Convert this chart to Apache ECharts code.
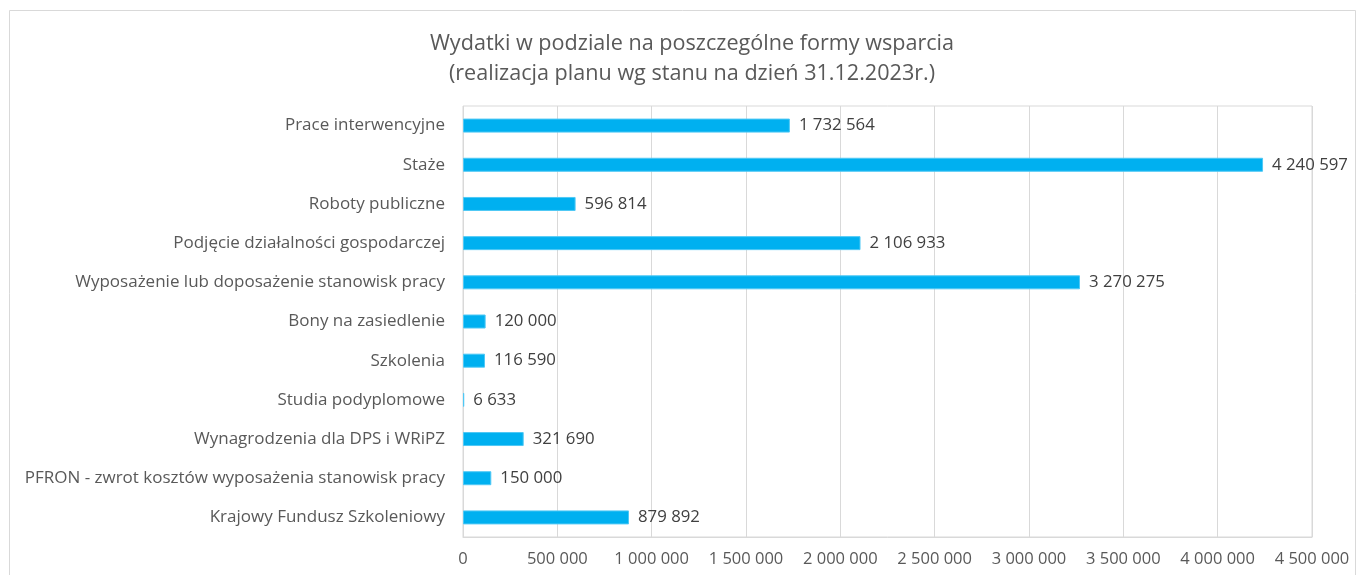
<!DOCTYPE html>
<html>
<head>
<meta charset="utf-8">
<script src="https://cdn.jsdelivr.net/npm/echarts@6/dist/echarts.min.js"></script>
<style>
  html, body { margin: 0; padding: 0; background: #fff; }
  #main { width: 1362px; height: 575px; }
</style>
</head>
<body>
<div id="main"></div>
<script>
var categories = [
    'Prace interwencyjne',
    'Staże',
    'Roboty publiczne',
    'Podjęcie działalności gospodarczej',
    'Wyposażenie lub doposażenie stanowisk pracy',
    'Bony na zasiedlenie',
    'Szkolenia',
    'Studia podyplomowe',
    'Wynagrodzenia dla DPS i WRiPZ',
    'PFRON - zwrot kosztów wyposażenia stanowisk pracy',
    'Krajowy Fundusz Szkoleniowy'
];
var values = [1732564, 4240597, 596814, 2106933, 3270275, 120000, 116590, 6633, 321690, 150000, 879892];

// liczby z odstępem jako separatorem tysięcy
function fmt(v) {
    return String(v).replace(/\B(?=(\d{3})+(?!\d))/g, ' ');
}

var myChart = echarts.init(document.getElementById('main'), null, { renderer: 'canvas' });
var font = '"Open Sans", Lato, sans-serif';

var option = {
    backgroundColor: '#fff',
    textStyle: { fontFamily: font },
    animation: false,
    title: {
        text: 'Wydatki w podziale na poszczególne formy wsparcia\n(realizacja planu wg stanu na dzień 31.12.2023r.)',
        left: 687,
        top: 24,
        textAlign: 'center',
        textStyle: {
            fontFamily: font,
            fontSize: 21.6,
            fontWeight: 'normal',
            color: '#595959',
            lineHeight: 30
        }
    },
    graphic: [{
        type: 'rect',
        shape: { x: 9.5, y: 10.5, width: 1346, height: 600 },
        style: { fill: 'none', stroke: '#d9d9d9', lineWidth: 1 },
        silent: true
    }],
    grid: {
        left: 463,
        right: 50,
        top: 106,
        bottom: 38,
        show: true,
        borderColor: '#d9d9d9',
        borderWidth: 1
    },
    xAxis: {
        type: 'value',
        min: 0,
        max: 4500000,
        interval: 500000,
        axisLine: { show: true, lineStyle: { color: '#d9d9d9' } },
        axisTick: { show: false },
        splitLine: { show: true, lineStyle: { color: '#d9d9d9' } },
        axisLabel: {
            formatter: function (v) { return fmt(v); },
            fontSize: 16.5,
            color: '#595959',
            margin: 14,
            fontFamily: font
        }
    },
    yAxis: {
        type: 'category',
        inverse: true,
        data: categories,
        axisLine: { show: false },
        axisTick: { show: false },
        axisLabel: {
            fontSize: 17,
            color: '#595959',
            margin: 18,
            fontFamily: font
        }
    },
    series: [{
        type: 'bar',
        data: values,
        barWidth: 14,
        itemStyle: { color: '#00b0f0', borderColor: '#4fc8f5', borderWidth: 1 },
        label: {
            show: true,
            position: 'right',
            distance: 9,
            formatter: function (p) { return fmt(p.value); },
            fontSize: 16.8,
            color: '#404040',
            fontFamily: font
        }
    }]
};
myChart.setOption(option);
</script>
</body>
</html>
